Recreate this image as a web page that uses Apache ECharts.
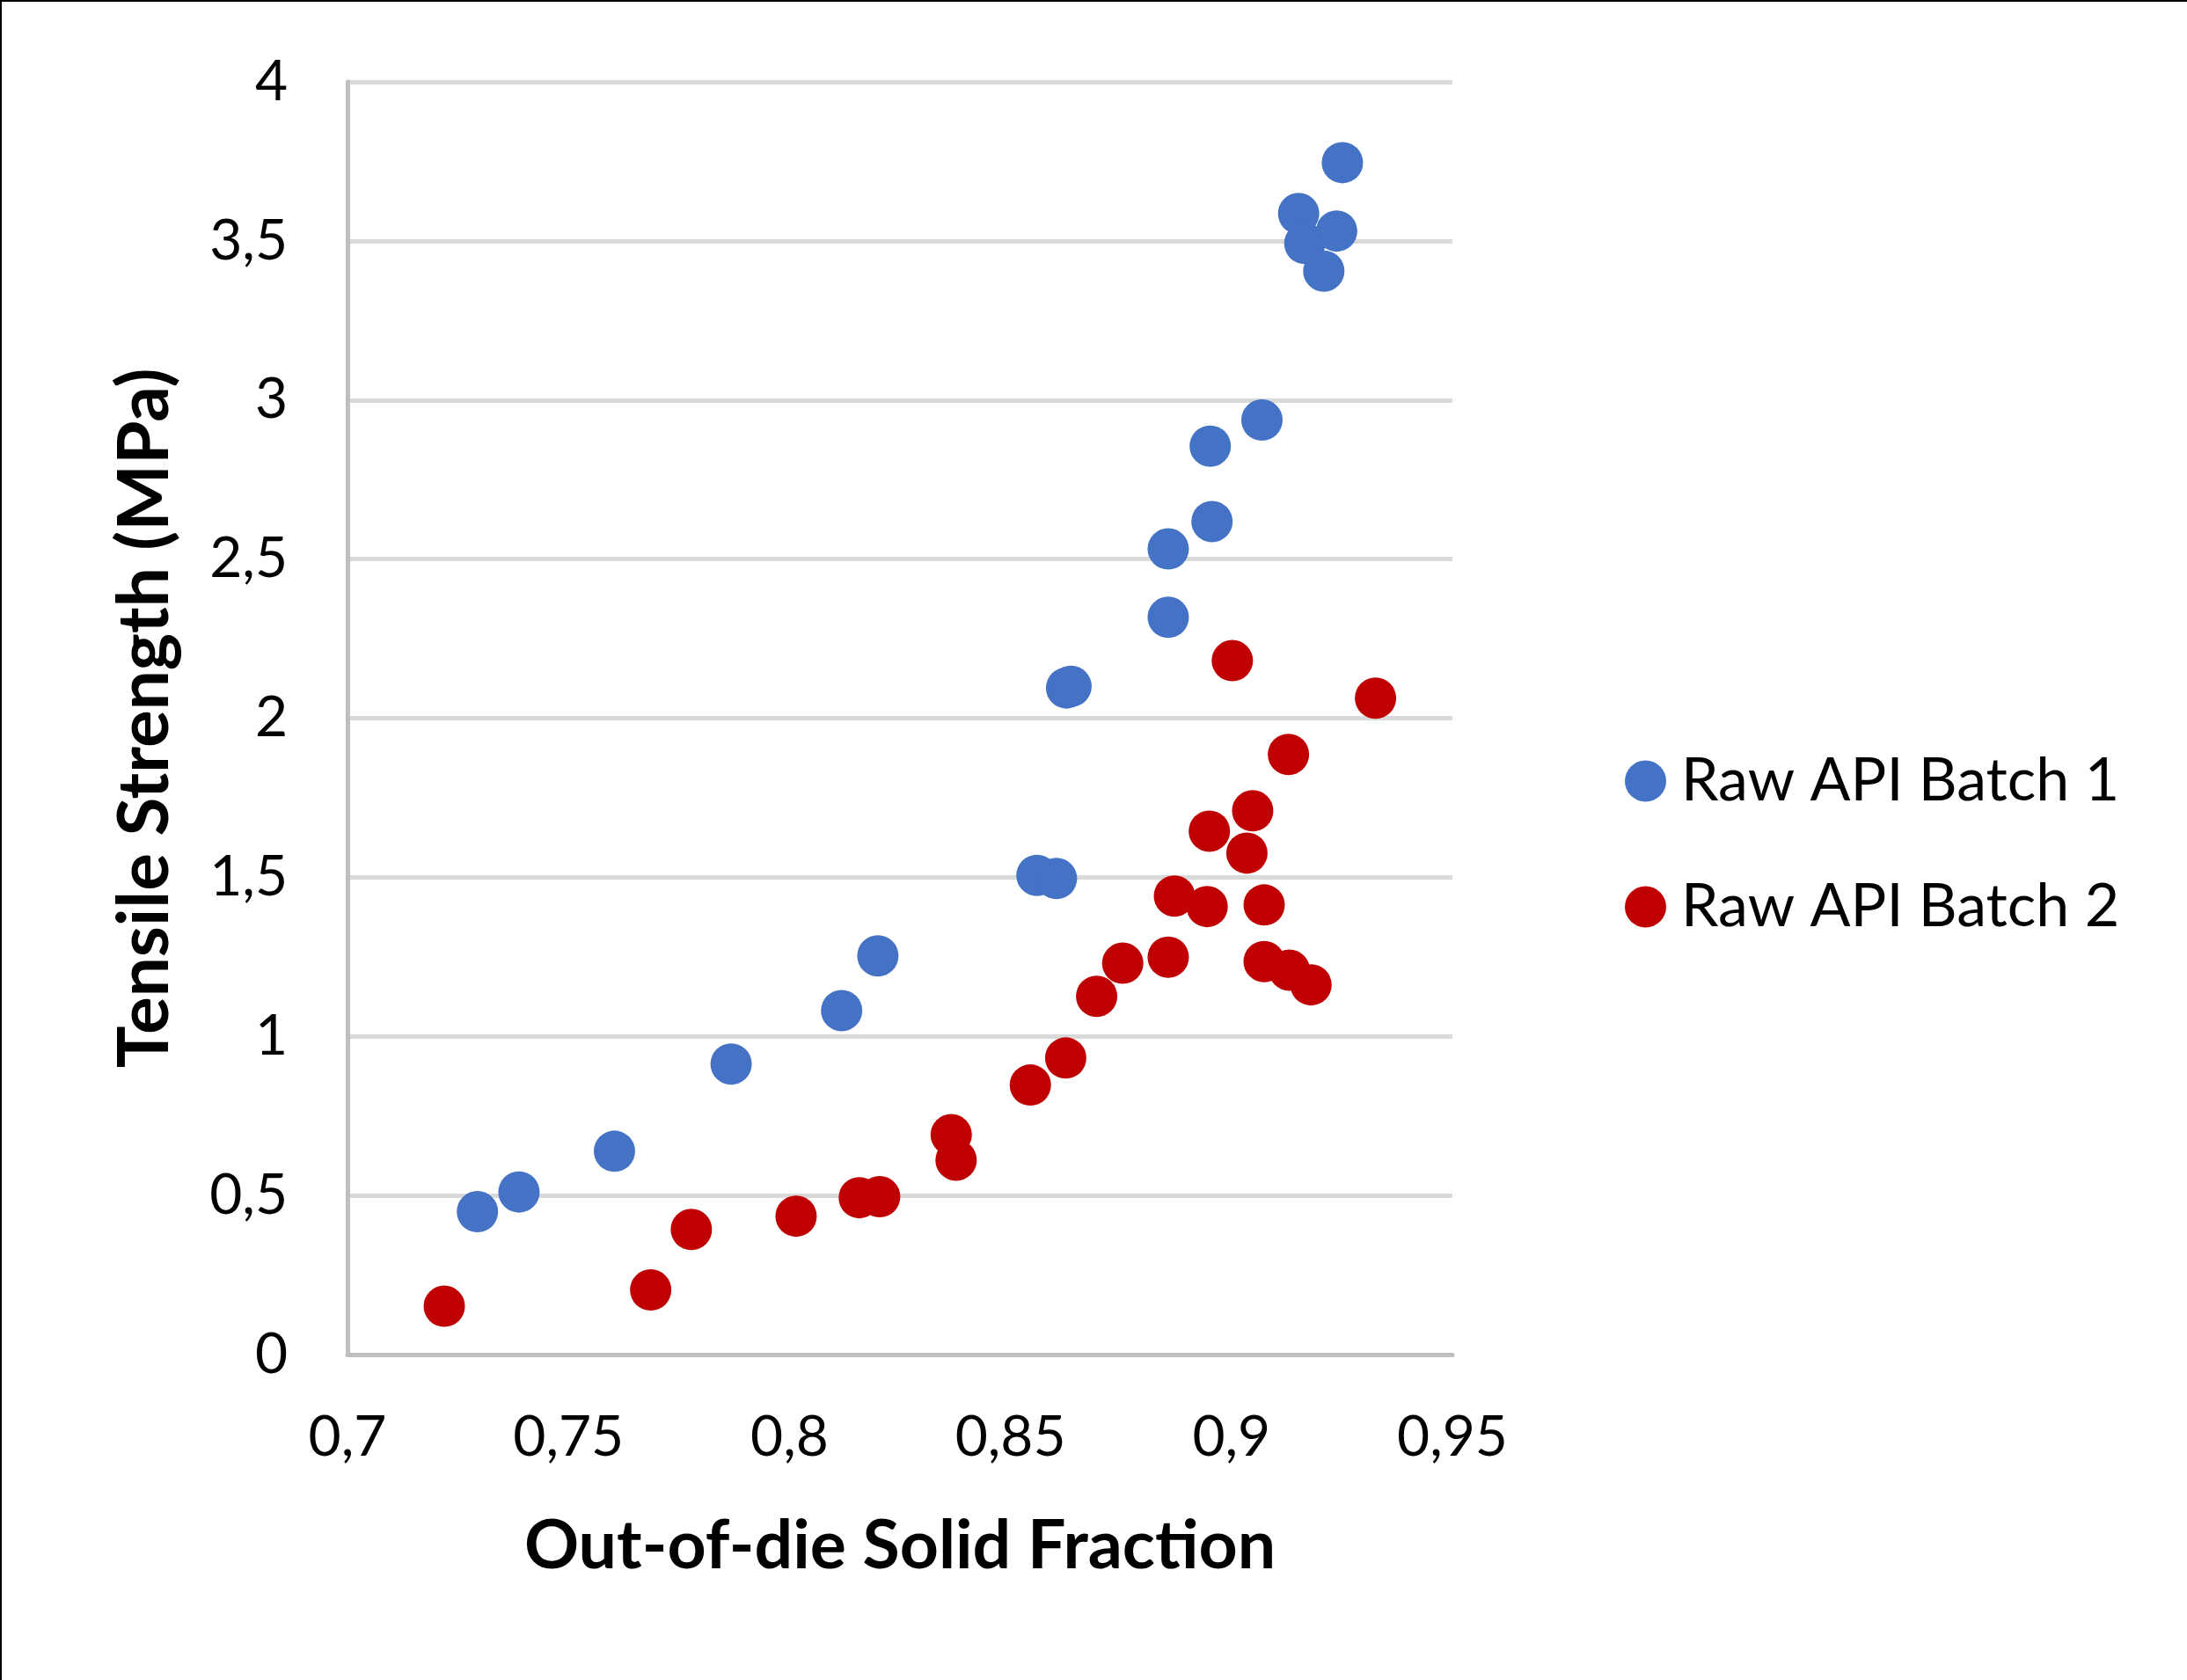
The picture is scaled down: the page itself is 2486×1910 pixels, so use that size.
<!DOCTYPE html>
<html>
<head>
<meta charset="utf-8">
<script src="https://cdn.jsdelivr.net/npm/echarts@6/dist/echarts.min.js"></script>
<style>
html,body{margin:0;padding:0;background:#fff;}
#wrap{position:relative;width:2486px;height:1910px;}
#chart{position:absolute;left:0;top:0;width:2486px;height:1910px;}
#frame{position:absolute;left:0;top:0;width:2486px;height:1910px;box-sizing:border-box;border-top:2px solid #000;border-left:2px solid #000;pointer-events:none;}
</style>
</head>
<body>
<div id="wrap"><div id="chart"></div><div id="frame"></div></div>
<script>
const seriesNames = ['Raw API Batch 1', 'Raw API Batch 2'];
const batch1X = [0.7294,0.7388,0.7604,0.7868,0.8118,0.8200,0.8560,0.8604,0.8627,0.8637,0.8857,0.8857,0.8956,0.8952,0.9069,0.9152,0.9166,0.9238,0.9209,0.9251];
const batch1Y = [0.449,0.511,0.639,0.913,1.081,1.253,1.506,1.496,2.095,2.100,2.317,2.532,2.618,2.855,2.937,3.586,3.492,3.531,3.405,3.746];
const batch2X = [0.7219,0.7686,0.7778,0.8015,0.8158,0.8204,0.8366,0.8377,0.8545,0.8625,0.8695,0.8754,0.8857,0.8871,0.8945,0.8950,0.9035,0.9048,0.9074,0.9074,0.9131,0.9180,0.9129,0.9002,0.9326];
const batch2Y = [0.152,0.203,0.393,0.435,0.493,0.496,0.691,0.611,0.847,0.932,1.126,1.230,1.249,1.441,1.408,1.645,1.576,1.709,1.413,1.235,1.208,1.162,1.886,2.181,2.063];
const xTicks = {min:0.7, max:0.95, interval:0.05};
const yTicks = {min:0, max:4, interval:0.5};
const xTitle = 'Out-of-die Solid Fraction';
const yTitle = 'Tensile Strength (MPa)';

const pair = (xs, ys) => xs.map((x, i) => [x, ys[i]]);
const comma = v => String(Math.round(v * 1000) / 1000).replace('.', ',');
const FONT = 'Lato';

const chart = echarts.init(document.getElementById('chart'));
chart.setOption({
  backgroundColor: '#fff',
  animation: false,
  textStyle: {fontFamily: FONT},
  grid: {left: 395, right: 835, top: 93, bottom: 370, containLabel: false},
  legend: {
    orient: 'vertical',
    left: 1842,
    top: 849,
    itemWidth: 47,
    itemHeight: 47,
    itemGap: 75,
    icon: 'circle',
    textStyle: {fontFamily: FONT, fontSize: 68, color: '#000', lineHeight: 68, padding: [0,0,0,12]},
    data: seriesNames
  },
  xAxis: {
    type: 'value',
    min: xTicks.min, max: xTicks.max, interval: xTicks.interval,
    name: xTitle,
    nameLocation: 'middle',
    nameGap: 180,
    nameTextStyle: {fontFamily: FONT, fontSize: 77, fontWeight: 'bold', color: '#000'},
    axisLine: {show: true, lineStyle: {color: '#bfbfbf', width: 5}},
    axisTick: {show: false},
    splitLine: {show: false},
    axisLabel: {fontFamily: FONT, fontSize: 64, color: '#000', margin: 62, formatter: comma}
  },
  yAxis: {
    type: 'value',
    min: yTicks.min, max: yTicks.max, interval: yTicks.interval,
    name: yTitle,
    nameLocation: 'middle',
    nameRotate: 90,
    nameGap: 190,
    nameTextStyle: {fontFamily: FONT, fontSize: 80, fontWeight: 'bold', color: '#000'},
    axisLine: {show: true, lineStyle: {color: '#bfbfbf', width: 5}},
    axisTick: {show: false},
    splitLine: {show: true, lineStyle: {color: '#d9d9d9', width: 5}},
    axisLabel: {fontFamily: FONT, fontSize: 64, color: '#000', margin: 68, formatter: comma}
  },
  series: [
    {name: seriesNames[0], type: 'scatter', symbol: 'circle', symbolSize: 47, itemStyle: {color: '#4472C4', opacity: 1}, data: pair(batch1X, batch1Y)},
    {name: seriesNames[1], type: 'scatter', symbol: 'circle', symbolSize: 47, itemStyle: {color: '#C00000', opacity: 1}, data: pair(batch2X, batch2Y)}
  ]
});
</script>
</body>
</html>
